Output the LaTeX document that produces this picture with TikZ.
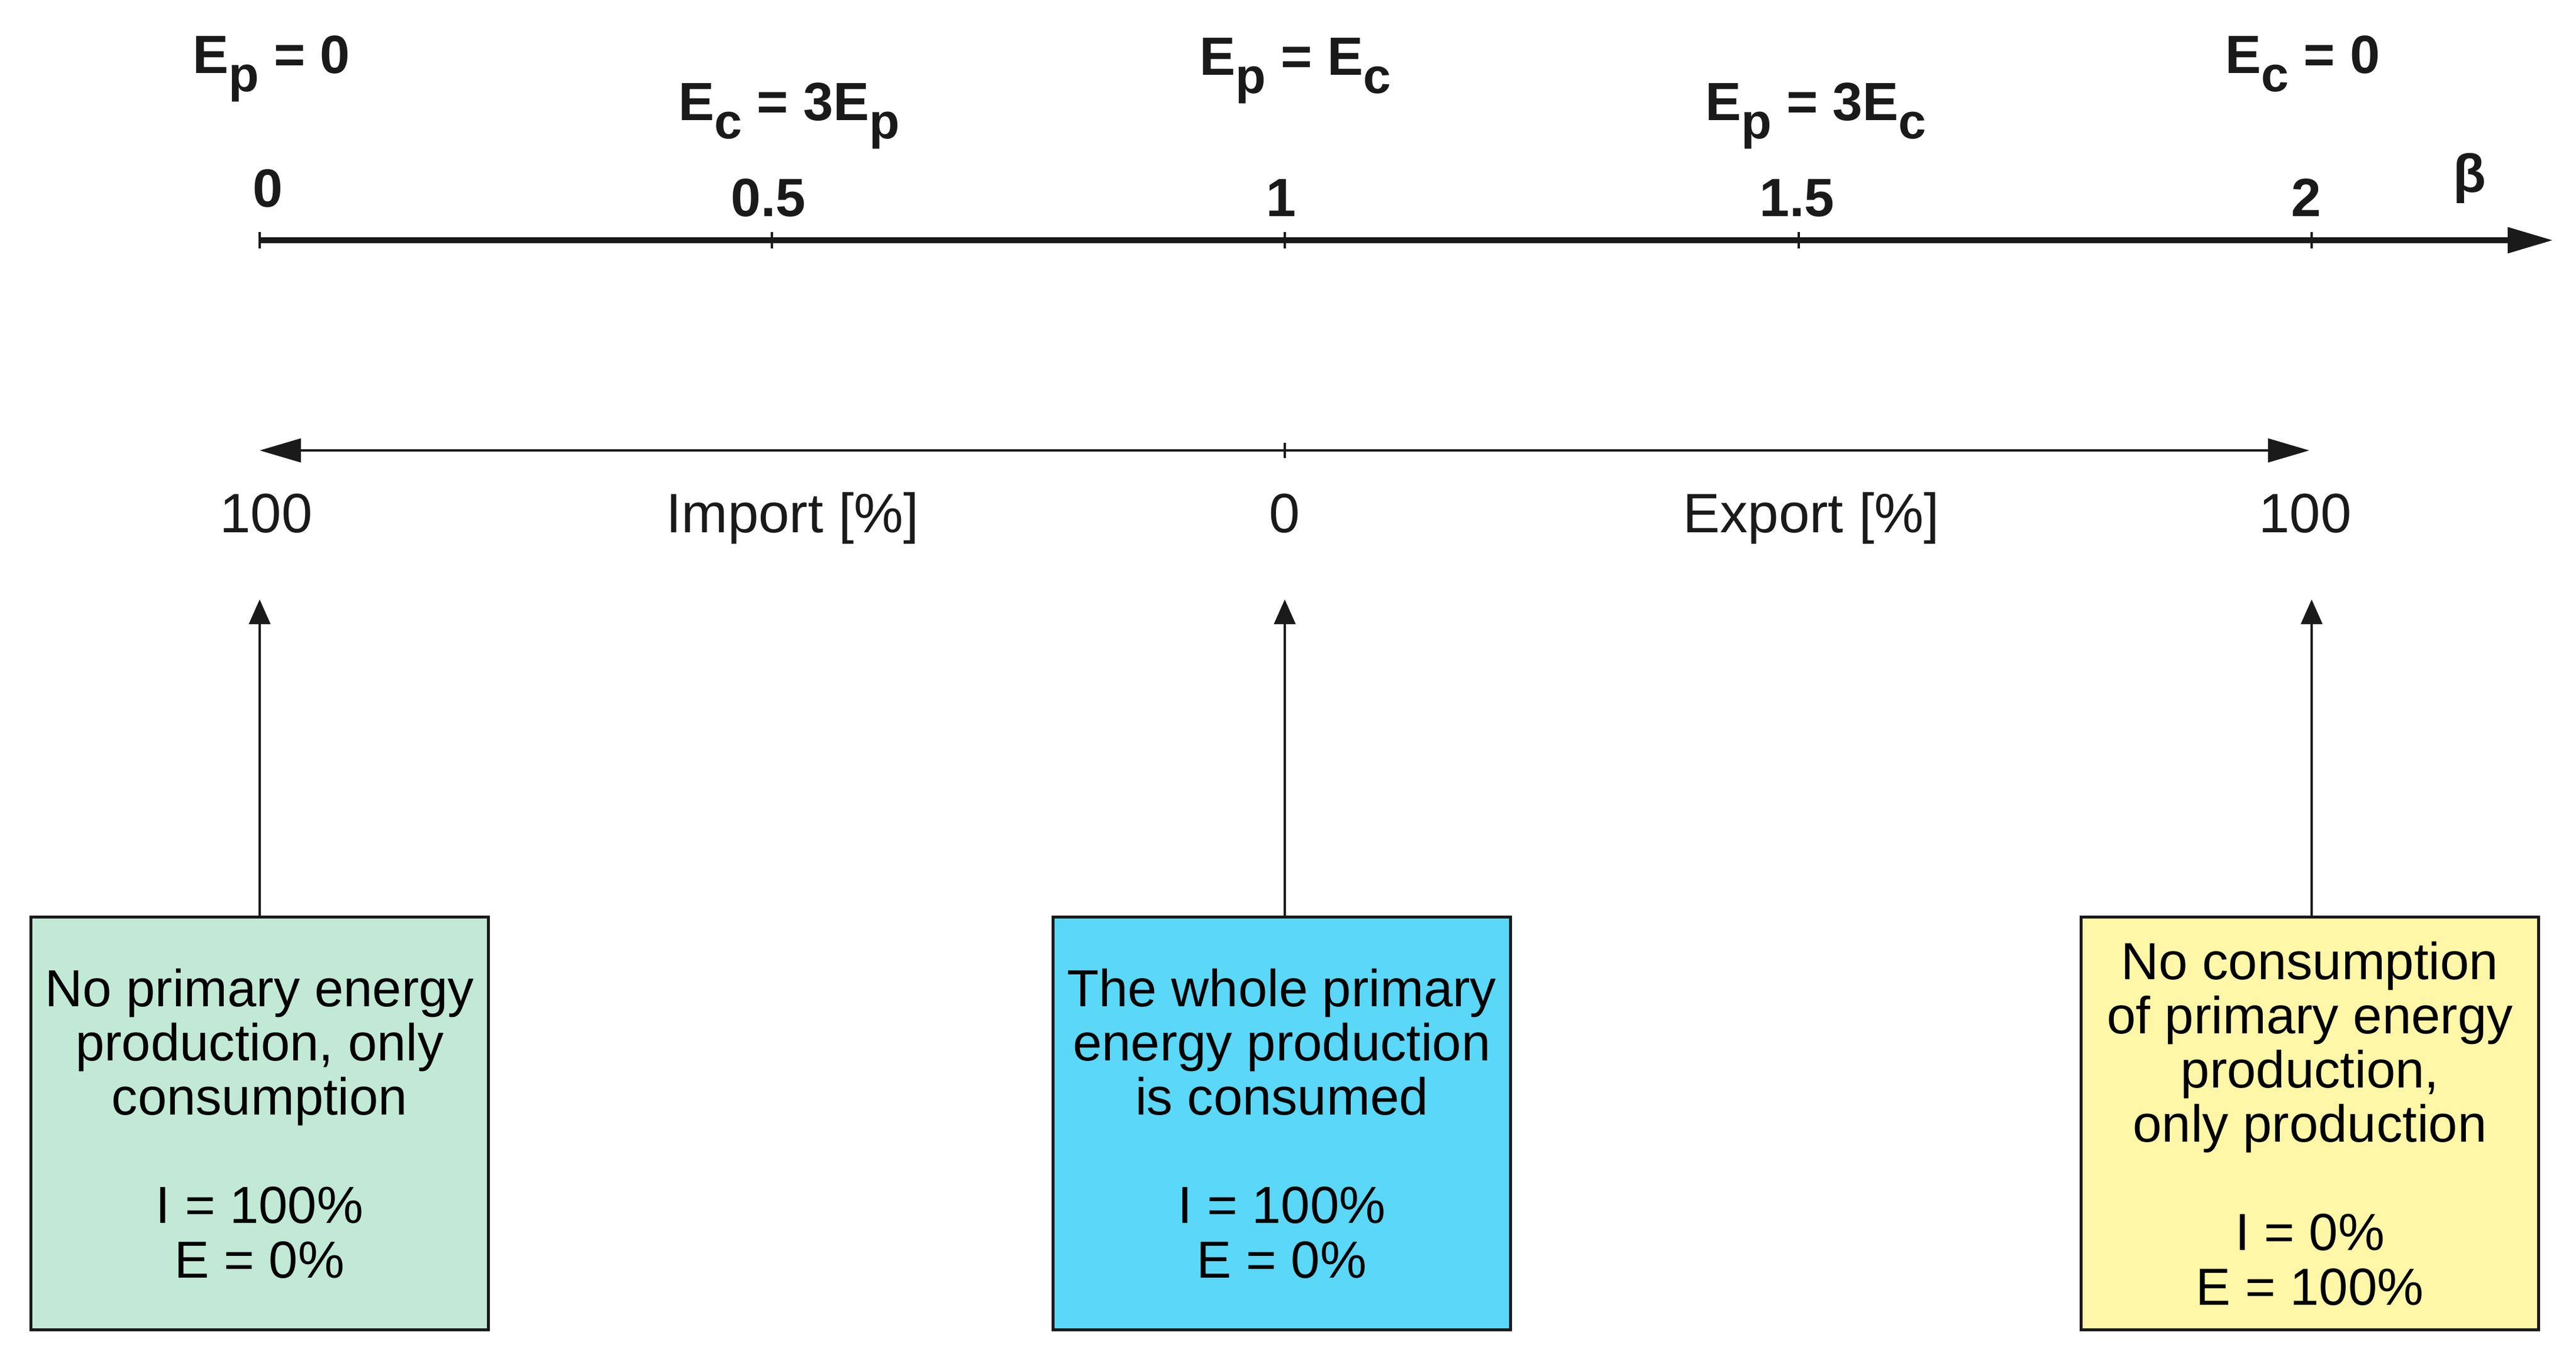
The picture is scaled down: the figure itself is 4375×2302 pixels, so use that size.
\documentclass[tikz,border=0pt]{standalone}
\usepackage{fontspec}
\setmainfont{Liberation Sans}
\usetikzlibrary{arrows.meta}
\definecolor{boxgreen}{RGB}{194,232,214}
\definecolor{boxcyan}{RGB}{91,215,247}
\definecolor{boxyellow}{RGB}{255,247,168}
\definecolor{inkblack}{RGB}{26,26,26}
\newcommand{\lowsub}[1]{\raisebox{-9pt}{\fontsize{24}{24}\selectfont #1}}
\begin{document}
\begin{tikzpicture}[x=0.01cm,y=-0.01cm,
  toplab/.style={font=\fontsize{26}{28}\selectfont\bfseries, anchor=base, inner sep=0pt, text=inkblack},
  ticklab/.style={font=\fontsize{26}{28}\selectfont\bfseries, anchor=base, inner sep=0pt, text=inkblack},
  axlab/.style={font=\fontsize{26.8}{28}\selectfont, anchor=base, inner sep=0pt, text=inkblack},
  infobox/.style={draw=inkblack, line width=1.4pt, minimum width=7.76cm, minimum height=7.0cm,
    align=center, font=\fontsize{25.2}{26.2}\selectfont, inner sep=0pt, text=black},
  mainaxis/.style={draw=inkblack, line width=2.8pt, -{Triangle[length=0.77cm,width=0.42cm]}},
  tickmark/.style={draw=inkblack, line width=1.3pt},
  pctaxis/.style={draw=inkblack, line width=1.2pt, {Triangle[length=0.70cm,width=0.40cm]}-{Triangle[length=0.70cm,width=0.40cm]}},
  uparrow/.style={draw=inkblack, line width=1.3pt, -{Triangle[length=0.42cm,width=0.36cm]}}
]
\useasboundingbox[fill=white] (0,0) rectangle (4375,2302);

% main beta axis
\coordinate (a0) at (441,408);
\coordinate (aend) at (4336,408);
\draw[mainaxis] (a0) -- (aend);
\foreach \x in {441,1311,2182,3055,3926}{
  \draw[tickmark] (\x,394) -- (\x,422);
}
\node[ticklab] (t0) at (455,351) {0};
\node[ticklab] (t05) at (1305,367) {0.5};
\node[ticklab] (t1) at (2176,367) {1};
\node[ticklab] (t15) at (3052,367) {1.5};
\node[ticklab] (t2) at (3917,367) {2};
\node[ticklab] (beta) at (4194,326) {β};

% top labels
\node[toplab] (l0) at (461,124) {E\lowsub{p} = 0};
\node[toplab] (l05) at (1340,204) {E\lowsub{c} = 3E\lowsub{p}};
\node[toplab] (l1) at (2200,127) {E\lowsub{p} = E\lowsub{c}};
\node[toplab] (l15) at (3084,204) {E\lowsub{p} = 3E\lowsub{c}};
\node[toplab] (l2) at (3911,124) {E\lowsub{c} = 0};

% import/export axis
\coordinate (bl) at (441,765);
\coordinate (br) at (3922,765);
\draw[pctaxis] (bl) -- (br);
\draw[tickmark, line width=1.2pt] (2182,752) -- (2182,778);
\node[axlab] (p100l) at (452,904) {100};
\node[axlab] (imp) at (1346,904) {Import [\%]};
\node[axlab] (p0) at (2182,904) {0};
\node[axlab] (exp) at (3076,904) {Export [\%]};
\node[axlab] (p100r) at (3915,904) {100};

% boxes
\node[infobox, fill=boxgreen] (bxl) at (441,1908)
  {No primary energy\\production, only\\consumption\\[26.2pt]I = 100\%\\E = 0\%};
\node[infobox, fill=boxcyan] (bxm) at (2177,1908)
  {The whole primary\\energy production\\is consumed\\[26.2pt]I = 100\%\\E = 0\%};
\node[infobox, fill=boxyellow] (bxr) at (3923,1908)
  {No consumption\\of primary energy\\production,\\only production\\[26.2pt]I = 0\%\\E = 100\%};

% up arrows
\coordinate (ul) at (441,1018);
\coordinate (um) at (2182,1018);
\coordinate (ur) at (3926,1018);
\draw[uparrow] (bxl.north -| ul) -- (ul);
\draw[uparrow] (bxm.north -| um) -- (um);
\draw[uparrow] (bxr.north -| ur) -- (ur);
\end{tikzpicture}
\end{document}
